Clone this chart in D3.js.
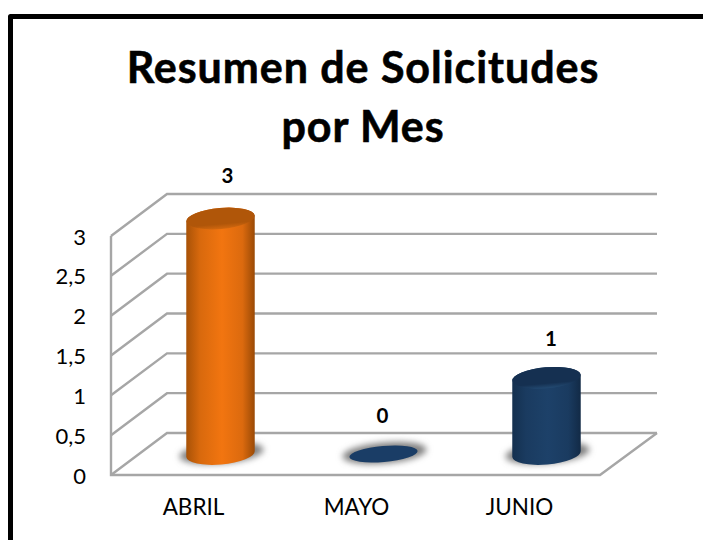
<!DOCTYPE html>
<html>
<head>
<meta charset="utf-8">
<script src="https://cdn.jsdelivr.net/npm/d3@7"></script>
<style>
    html, body { margin: 0; padding: 0; background: #fff; }
    text { font-family: Lato, "Open Sans", sans-serif; fill: #000; }
</style>
</head>
<body>
<svg id="chart" width="703" height="540"></svg>
<script>
const titleLines = ['Resumen de Solicitudes', 'por Mes'];
const months = ['ABRIL', 'MAYO', 'JUNIO'];
const requests = [3, 0, 1];
const barColors = ['orange', 'navy', 'navy'];
const yTicks = [0, 0.5, 1, 1.5, 2, 2.5, 3];

const svg = d3.select('#chart');

// 3D box: front plane plus a depth shift for the back wall
const frontLeft = 111, frontRight = 600;
const floorY = 475, topY = 236;
const depthX = 56, depthY = 42;

const x = d3.scaleBand().domain(months).range([frontLeft, frontRight]);
const y = d3.scaleLinear().domain([0, 3]).range([floorY, topY]);

const shades = {
    orange: {edge: '#a85207', mid: '#f27510', dark: '#9a4a06', top: '#b05609', rim: '#d2680f', flat: '#d2680f'},
    navy: {edge: '#14304f', mid: '#1d4169', dark: '#122a46', top: '#153051', rim: '#234a72', flat: '#1a3d66'}
};

const defs = svg.append('defs');
defs.append('filter').attr('id', 'blur')
    .attr('x', '-30%').attr('y', '-80%').attr('width', '160%').attr('height', '260%')
    .append('feGaussianBlur').attr('stdDeviation', 3);

Object.keys(shades).forEach(function (name) {
    let s = shades[name];
    let grad = defs.append('linearGradient').attr('id', 'body-' + name);
    grad.append('stop').attr('offset', '0%').attr('stop-color', s.edge);
    grad.append('stop').attr('offset', '20%').attr('stop-color', d3.interpolateRgb(s.edge, s.mid)(0.65));
    grad.append('stop').attr('offset', '52%').attr('stop-color', s.mid);
    grad.append('stop').attr('offset', '82%').attr('stop-color', d3.interpolateRgb(s.dark, s.mid)(0.75));
    grad.append('stop').attr('offset', '100%').attr('stop-color', s.dark);

    let cap = defs.append('linearGradient').attr('id', 'cap-' + name)
        .attr('x1', 0).attr('y1', 0).attr('x2', 0).attr('y2', 1);
    cap.append('stop').attr('offset', '0%').attr('stop-color', s.top);
    cap.append('stop').attr('offset', '76%').attr('stop-color', s.top);
    cap.append('stop').attr('offset', '100%').attr('stop-color', s.rim);
});

// Page frame, only the left and top edges are in the picture
svg.append('path')
    .attr('d', d3.line()([[10.5, 540], [10.5, 16.5], [703, 16.5]]))
    .attr('fill', 'none')
    .attr('stroke', '#000')
    .attr('stroke-width', 5)
    .attr('stroke-linejoin', 'round');

// Title
svg.selectAll('.title')
    .data(titleLines)
    .enter().append('text')
    .attr('class', 'title')
    .attr('x', 363)
    .attr('y', (d, i) => 83 + i * 59)
    .attr('text-anchor', 'middle')
    .attr('font-size', 43)
    .attr('letter-spacing', 0.95)
    .attr('font-weight', 700)
    .attr('stroke', '#000')
    .attr('stroke-width', 0.6)
    .text(d => d);

// Walls and floor
const gridColor = '#a6a6a6';
const grid = svg.append('g')
    .attr('fill', 'none')
    .attr('stroke', gridColor)
    .attr('stroke-width', 2.4);

yTicks.forEach(function (t) {
    grid.append('path').attr('d', d3.line()([
        [frontLeft, y(t)],
        [frontLeft + depthX, y(t) - depthY],
        [frontRight + depthX + 1, y(t) - depthY]
    ]));
});

grid.append('path').attr('d', d3.line()([
    [frontLeft, y(3)],
    [frontLeft, floorY],
    [frontRight, floorY],
    [frontRight + depthX + 1, floorY - depthY]
]));

// Axis labels
const yAxis = d3.axisLeft(y)
    .tickValues(yTicks)
    .tickSize(0)
    .tickPadding(25)
    .tickFormat(d => String(d).replace('.', ','));
svg.append('g')
    .attr('transform', 'translate(' + frontLeft + ',1)')
    .call(yAxis)
    .call(g => g.select('.domain').remove())
    .selectAll('text')
    .style('font-family', 'Lato, sans-serif')
    .attr('font-size', 22);

const xAxis = d3.axisBottom(x).tickSize(0).tickPadding(24);
svg.append('g')
    .attr('transform', 'translate(1,' + floorY + ')')
    .call(xAxis)
    .call(g => g.select('.domain').remove())
    .selectAll('text')
    .style('font-family', 'Lato, sans-serif')
    .attr('font-size', 22.5);

// Cylinders
const rx = x.bandwidth() * 0.21;
const ry = 10.5;
const tilt = -5;
const tiltRise = 3;
const baseY = floorY - depthY / 2;
const labelNudge = [7, -1, 4.5];

function barTop(v) {
    // rounded cap sits a little under the value line
    return v > 0 ? y(v) - depthY / 2 + 3.5 : baseY;
}

months.forEach(function (m, i) {
    let v = requests[i];
    let s = shades[barColors[i]];
    let cx = x(m) + x.bandwidth() / 2 + depthX / 2;
    let top = barTop(v);
    let g = svg.append('g');

    g.append('ellipse')
        .attr('cx', cx + 1)
        .attr('cy', baseY - 1)
        .attr('rx', rx + 8)
        .attr('ry', ry)
        .attr('transform', 'rotate(' + tilt + ' ' + (cx + 1) + ' ' + (baseY - 1) + ')')
        .attr('fill', '#808080')
        .attr('filter', 'url(#blur)');

    if (v > 0) {
        let arc = 'A' + rx + ',' + ry + ' ' + tilt + ' 0 0 ';
        let d = 'M' + (cx - rx) + ',' + (top + tiltRise)
            + 'L' + (cx - rx) + ',' + (baseY + tiltRise)
            + arc + (cx + rx) + ',' + (baseY - tiltRise)
            + 'L' + (cx + rx) + ',' + (top - tiltRise)
            + arc + (cx - rx) + ',' + (top + tiltRise) + 'Z';
        g.append('path')
            .attr('d', d)
            .attr('fill', 'url(#body-' + barColors[i] + ')');
    }

    g.append('ellipse')
        .attr('cx', cx)
        .attr('cy', top)
        .attr('rx', rx)
        .attr('ry', v > 0 ? ry : ry - 2.5)
        .attr('transform', 'rotate(' + tilt + ' ' + cx + ' ' + top + ')')
        .attr('fill', v > 0 ? 'url(#cap-' + barColors[i] + ')' : s.flat);

    // value label
    svg.append('text')
        .attr('x', cx + labelNudge[i])
        .attr('y', top - (v === 3 ? 36 : 31.5))
        .attr('text-anchor', 'middle')
        .attr('font-size', 20.5)
        .attr('font-weight', 700)
        .text(v);
});
</script>
</body>
</html>
